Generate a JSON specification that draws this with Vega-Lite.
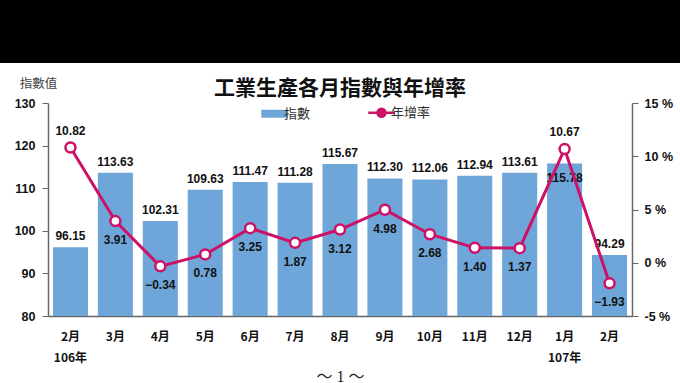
{
  "$schema": "https://vega.github.io/schema/vega-lite/v6.json",
  "padding": 0,
  "spacing": 14,
  "columns": 1,
  "align": "none",
  "background": "white",
  "config": {"view": {"stroke": null}},
  "data": {"values": [
    {"period": "2月|106年", "index": 96.15, "growth": 10.82},
    {"period": "3月", "index": 113.63, "growth": 3.91},
    {"period": "4月", "index": 102.31, "growth": -0.34},
    {"period": "5月", "index": 109.63, "growth": 0.78},
    {"period": "6月", "index": 111.47, "growth": 3.25},
    {"period": "7月", "index": 111.28, "growth": 1.87},
    {"period": "8月", "index": 115.67, "growth": 3.12},
    {"period": "9月", "index": 112.30, "growth": 4.98},
    {"period": "10月", "index": 112.06, "growth": 2.68},
    {"period": "11月", "index": 112.94, "growth": 1.40},
    {"period": "12月", "index": 113.61, "growth": 1.37},
    {"period": "1月|107年", "index": 115.78, "growth": 10.67},
    {"period": "2月", "index": 94.29, "growth": -1.93}
  ]},
  "concat": [
    {
      "width": 584,
      "height": 63,
      "view": {"fill": "black", "stroke": null},
      "transform": [{"filter": "datum.period === '3月'"}],
      "mark": {"type": "rect", "color": "black", "clip": false},
      "encoding": {
        "x": {"datum": -48, "type": "quantitative", "scale": {"domain": [0, 584], "nice": false, "zero": false}, "axis": null},
        "x2": {"datum": 632}
      }
    },
    {
      "width": 584,
      "height": 213,
      "title": {"text": "工業生產各月指數與年增率", "font": "Noto Sans CJK TC", "fontSize": 21, "fontWeight": "bold", "color": "#111", "anchor": "middle", "frame": "group", "offset": -22},
      "encoding": {
        "x": {"field": "period", "type": "nominal", "sort": null,
          "scale": {"paddingInner": 0.22, "paddingOuter": 0.11},
          "axis": {"labelExpr": "split(datum.value, '|')", "labelAngle": 0, "ticks": false, "domainColor": "#666", "domainWidth": 1.5,
            "labelFont": "Noto Sans CJK TC", "labelFontWeight": "bold", "labelFontSize": 12, "labelColor": "#111", "labelLineHeight": 21, "labelPadding": 15,
            "title": "～  1  ～", "titleFont": "Liberation Serif, Noto Sans CJK TC", "titleFontSize": 16, "titleFontWeight": "normal", "titleColor": "#222", "titlePadding": 5}}
      },
      "layer": [
        {
          "encoding": {
            "y": {"field": "index", "type": "quantitative", "scale": {"domain": [80, 130], "nice": false, "zero": false},
              "axis": {"orient": "left", "values": [80, 90, 100, 110, 120, 130], "grid": false, "tickSize": 6, "domainColor": "#666", "tickColor": "#666", "domainWidth": 1.5,
                "labelFont": "Liberation Sans", "labelFontWeight": "bold", "labelFontSize": 12.5, "labelColor": "#111", "labelPadding": 7,
                "title": "指數值", "titleFont": "Noto Sans CJK TC", "titleFontWeight": "normal", "titleFontSize": 12.5, "titleColor": "#444", "titleAngle": 0, "titleX": -10, "titleY": -20, "titleAlign": "center", "titleBaseline": "middle"}}
          },
          "layer": [
            {
              "mark": {"type": "bar", "color": "#6fa6d9"},
              "encoding": {
                "y2": {"datum": 80},
                "color": {"datum": "指數", "type": "nominal",
                  "scale": {"domain": ["指數", "年增率"], "range": ["#6fa6d9", "#cc1166"]},
                  "legend": {"orient": "none", "legendX": 220, "legendY": 106, "direction": "horizontal", "title": null,
                    "symbolSize": 700, "labelFont": "Noto Sans CJK TC", "labelFontSize": 13, "labelColor": "#333", "labelOffset": 3, "columnPadding": 52,
                    "encode": {"symbols": {"update": {
                      "shape": {"signal": "datum.value === '指數' ? 'M-1,-0.3H1V0.3H-1Z' : 'M-1,0H-0.3M0.3,0H1M-0.3,0A0.3,0.3 0 1,1 0.3,0A0.3,0.3 0 1,1 -0.3,0Z'"},
                      "fill": {"signal": "datum.value === '指數' ? '#6fa6d9' : 'white'"},
                      "stroke": {"signal": "datum.value === '指數' ? null : '#cc1166'"},
                      "strokeWidth": {"signal": "datum.value === '指數' ? 0 : 2.5"},
                      "opacity": {"value": 1}, "fillOpacity": {"value": 1}, "strokeOpacity": {"value": 1}
                    }}}}}
              }
            },
            {
              "transform": [{"filter": "datum.period !== '1月|107年'"}],
              "mark": {"type": "text", "font": "Liberation Sans", "fontWeight": "bold", "fontSize": 12, "color": "#111", "baseline": "bottom", "dy": -4},
              "encoding": {"text": {"field": "index", "type": "quantitative", "format": ".2f"}}
            },
            {
              "transform": [{"filter": "datum.period === '1月|107年'"}],
              "mark": {"type": "text", "font": "Liberation Sans", "fontWeight": "bold", "fontSize": 12, "color": "#111", "baseline": "middle", "dy": 14},
              "encoding": {"text": {"field": "index", "type": "quantitative", "format": ".2f"}}
            }
          ]
        },
        {
          "encoding": {
            "y": {"field": "growth", "type": "quantitative", "scale": {"domain": [-5, 15], "nice": false, "zero": false},
              "axis": {"orient": "right", "values": [-5, 0, 5, 10, 15], "labelExpr": "datum.value + ' %'", "grid": false, "tickSize": 6, "domainColor": "#666", "tickColor": "#666", "domainWidth": 1.5,
                "labelFont": "Liberation Sans", "labelFontWeight": "bold", "labelFontSize": 12.5, "labelColor": "#111", "labelPadding": 6, "title": null}}
          },
          "layer": [
            {
              "mark": {"type": "line", "strokeWidth": 3, "point": {"filled": false, "fill": "white", "size": 100, "strokeWidth": 2.5}},
              "encoding": {"color": {"datum": "年增率", "type": "nominal"}}
            },
            {
              "transform": [{"filter": "datum.growth < 10"}],
              "mark": {"type": "text", "font": "Liberation Sans", "fontWeight": "bold", "fontSize": 12, "color": "#111", "baseline": "middle", "dy": 19},
              "encoding": {"text": {"field": "growth", "type": "quantitative", "format": ".2f"}}
            },
            {
              "transform": [{"filter": "datum.growth >= 10"}],
              "mark": {"type": "text", "font": "Liberation Sans", "fontWeight": "bold", "fontSize": 12, "color": "#111", "baseline": "middle", "dy": -17},
              "encoding": {"text": {"field": "growth", "type": "quantitative", "format": ".2f"}}
            }
          ]
        }
      ],
      "resolve": {"scale": {"y": "independent", "color": "shared"}}
    }
  ]
}
